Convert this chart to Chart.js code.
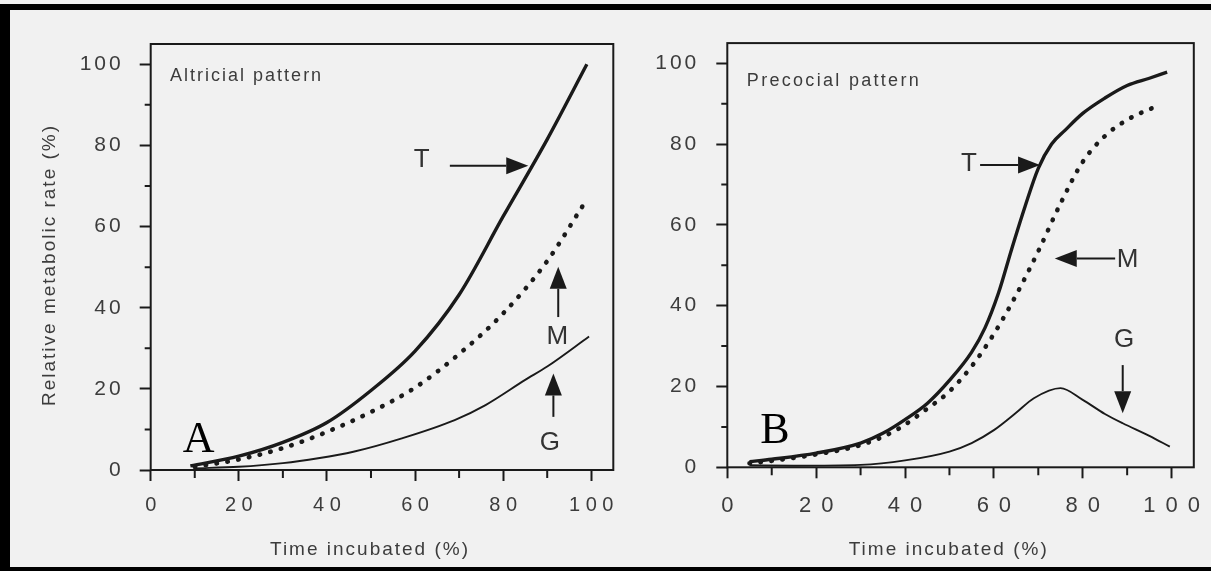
<!DOCTYPE html>
<html>
<head>
<meta charset="utf-8">
<script src="https://cdn.jsdelivr.net/npm/chart.js@4.4.1/dist/chart.umd.min.js"></script>
<style>
  html, body { margin: 0; padding: 0; width: 1211px; height: 571px; overflow: hidden; background: #f1f1f1; }
  #frame { position: absolute; left: 0; top: 4px; width: 1260px; height: 567px; box-sizing: border-box;
           border-top: 6px solid #000; border-left: 10px solid #000; border-bottom: 4px solid #000; }
  canvas { position: absolute; top: 0; }
  #left { left: 0; }
  #right { left: 640px; }
</style>
</head>
<body>
<div id="frame"></div>
<canvas id="left" width="640" height="571"></canvas>
<canvas id="right" width="571" height="571"></canvas>
<script>
// axis ticks (labelled every 20, small marks in between)
const tickValues = [0, 20, 40, 60, 80, 100];
const minorTicks = [10, 30, 50, 70, 90];

// A - altricial pattern (time incubated % -> relative metabolic rate %)
const altTimeT = [9, 20, 30, 40, 50, 60, 70, 80, 90, 99];
const altT     = [1.0, 3.4, 6.8, 11.7, 19.6, 29.3, 43.2, 62.5, 81.5, 100];
const altTimeM = [10, 20, 30, 40, 50, 60, 70, 80, 90, 98];
const altM     = [0.8, 2.6, 5.4, 9.4, 14.3, 20.3, 28.6, 38.6, 51.5, 65];
const altTimeG = [10, 20, 30, 38, 46, 57, 69, 76, 85, 90, 99.5];
const altG     = [0.4, 0.8, 1.7, 2.9, 4.5, 7.8, 12.3, 16, 22.2, 25.5, 32.9];

// B - precocial pattern
const preTimeT = [5, 10, 20, 30, 35, 40, 45, 50, 55, 58, 61, 64, 67, 70, 73, 76, 80, 85, 90, 95, 99];
const preT     = [1.4, 2.0, 3.5, 6.0, 8.4, 11.8, 15.8, 21.5, 28.5, 34.5, 43, 54, 64.5, 74, 80, 83.4, 87.6, 91.4, 94.5, 96.3, 97.8];
const preTimeM = [5, 10, 20, 30, 38, 45, 50, 55, 60, 65, 70, 75, 80, 85, 90, 97.5];
const preM     = [1.0, 1.6, 3.2, 5.5, 9.2, 14.5, 18.8, 25.0, 33.0, 42.6, 53.5, 65.3, 75.6, 82.0, 86.0, 89.8];
const preTimeG = [5, 15, 30, 40, 50, 55, 60, 65, 69, 75, 80, 85, 89, 95, 99.6];
const preG     = [0.5, 0.4, 0.6, 1.7, 3.9, 6, 9.2, 13.5, 17.1, 19.6, 16.7, 13.2, 10.9, 7.8, 5.1];

const INK = '#1a1a1a';
const TEXT = '#3c3c3c';
Chart.defaults.font.family = "'Liberation Sans', Arial, Helvetica, sans-serif";

// labels and arrows, placed in data units
const altNotes = {
  caption: { text: 'Altricial pattern', x: 4.4, y: 97.1, spacing: 2 },
  letters: [{ text: 'T', x: 61.5, y: 76.4 }, { text: 'M', x: 92.3, y: 32.9 }, { text: 'G', x: 90.6, y: 6.6 }],
  arrows: [{ from: [67.9, 75], to: [85.7, 75] }, { from: [92.5, 37.7], to: [92.5, 50.1] }, { from: [91.4, 13.1], to: [91.4, 23.8] }],
  panel: { text: 'A', x: 7.3, y: 4.5 },
  titles: { x: [370, 550], y: [50, 265] }
};
const preNotes = {
  caption: { text: 'Precocial pattern', x: 4.4, y: 95.7, spacing: 2.3 },
  letters: [{ text: 'T', x: 54.4, y: 75.1 }, { text: 'M', x: 90.1, y: 51.3 }, { text: 'G', x: 89.3, y: 31.5 }],
  arrows: [{ from: [56.9, 74.8], to: [70.4, 74.8] }, { from: [87.3, 51.7], to: [73.7, 51.7] }, { from: [89.0, 25.3], to: [89.0, 13.4] }],
  panel: { text: 'B', x: 7.4, y: 5.9 },
  titles: { x: [308.7, 550] }
};

function pts(xs, ys) {
  return xs.map((x, i) => ({ x: x, y: ys[i] }));
}

function arrow(ctx, x0, y0, x1, y1) {
  const a = Math.atan2(y1 - y0, x1 - x0);
  const hl = 22, hw = 8.5;
  const bx = x1 - hl * Math.cos(a), by = y1 - hl * Math.sin(a);
  ctx.beginPath();
  ctx.moveTo(x0, y0);
  ctx.lineTo(bx, by);
  ctx.stroke();
  ctx.beginPath();
  ctx.moveTo(x1, y1);
  ctx.lineTo(bx + hw * Math.sin(a), by - hw * Math.cos(a));
  ctx.lineTo(bx - hw * Math.sin(a), by + hw * Math.cos(a));
  ctx.closePath();
  ctx.fill();
}

function decor(notes, lay) {
  return {
    id: 'decor',
    // x tick labels are drawn before the datasets, y tick labels after (ticks.z = 1)
    beforeDraw(chart) { chart.ctx.letterSpacing = lay.xSpacing + 'px'; },
    afterDatasetsDraw(chart) { chart.ctx.letterSpacing = lay.ySpacing + 'px'; },
    afterDraw(chart) {
      const { ctx, chartArea: a, scales: { x, y } } = chart;
      ctx.save();
      ctx.letterSpacing = '0px';
      ctx.strokeStyle = INK;
      ctx.fillStyle = INK;
      ctx.lineWidth = 2;
      ctx.strokeRect(a.left, a.top, a.right - a.left, a.bottom - a.top);

      ctx.beginPath();
      minorTicks.forEach(v => {
        const px = x.getPixelForValue(v), py = y.getPixelForValue(v);
        ctx.moveTo(px, a.bottom);
        ctx.lineTo(px, a.bottom + 8);
        ctx.moveTo(a.left, py);
        ctx.lineTo(a.left - 6, py);
      });
      ctx.stroke();

      notes.arrows.forEach(ar => {
        arrow(ctx, x.getPixelForValue(ar.from[0]), y.getPixelForValue(ar.from[1]),
                   x.getPixelForValue(ar.to[0]), y.getPixelForValue(ar.to[1]));
      });

      ctx.fillStyle = '#333';
      ctx.font = "26px 'Liberation Sans', Arial, sans-serif";
      ctx.textAlign = 'center';
      ctx.textBaseline = 'middle';
      notes.letters.forEach(l => ctx.fillText(l.text, x.getPixelForValue(l.x), y.getPixelForValue(l.y)));

      ctx.fillStyle = TEXT;
      ctx.textAlign = 'left';
      ctx.font = "18px 'Liberation Sans', Arial, sans-serif";
      ctx.letterSpacing = notes.caption.spacing + 'px';
      ctx.fillText(notes.caption.text, x.getPixelForValue(notes.caption.x), y.getPixelForValue(notes.caption.y));

      // axis titles
      ctx.font = "19px 'Liberation Sans', Arial, sans-serif";
      ctx.letterSpacing = '2px';
      ctx.textAlign = 'center';
      ctx.fillText('Time incubated (%)', notes.titles.x[0], notes.titles.x[1]);
      if (notes.titles.y) {
        ctx.save();
        ctx.translate(notes.titles.y[0], notes.titles.y[1]);
        ctx.rotate(-Math.PI / 2);
        ctx.fillText('Relative metabolic rate (%)', 0, 0);
        ctx.restore();
      }

      ctx.letterSpacing = '0px';
      ctx.fillStyle = '#000';
      ctx.textAlign = 'left';
      ctx.textBaseline = 'alphabetic';
      ctx.font = "44px 'Liberation Serif', 'Times New Roman', serif";
      ctx.fillText(notes.panel.text, x.getPixelForValue(notes.panel.x), y.getPixelForValue(notes.panel.y));
      ctx.restore();
    }
  };
}

function makePanel(id, series, notes, lay) {
  const line = { pointRadius: 0, fill: false, borderColor: INK, cubicInterpolationMode: 'monotone' };
  const fixedTicks = s => { s.ticks = tickValues.map(v => ({ value: v })); };
  return new Chart(document.getElementById(id), {
    type: 'line',
    data: {
      datasets: [
        Object.assign({ label: 'T', data: pts(series[0], series[1]), borderWidth: 3.4 }, line),
        Object.assign({ label: 'M', data: pts(series[2], series[3]), borderWidth: 4.6,
                        borderDash: [0.5, 10.5], borderCapStyle: 'round' }, line),
        Object.assign({ label: 'G', data: pts(series[4], series[5]), borderWidth: 1.9 }, line)
      ]
    },
    options: {
      responsive: false,
      animation: false,
      layout: { padding: { left: 0, top: lay.top, right: lay.right, bottom: 0 } },
      plugins: { legend: { display: false }, tooltip: { enabled: false } },
      scales: {
        x: {
          type: 'linear', min: 0, max: 105,
          afterBuildTicks: fixedTicks,
          afterFit: s => { s.height = lay.xHeight; s.paddingLeft = 0; s.paddingRight = 0; },
          border: { display: false },
          grid: { drawOnChartArea: false, tickLength: 11, tickWidth: 2, tickColor: INK },
          ticks: { autoSkip: false, maxRotation: 0, color: TEXT,
                   padding: lay.xPad, labelOffset: lay.xSpacing / 2, font: { size: lay.xFont } }
        },
        y: {
          min: 0, max: 105,
          afterBuildTicks: fixedTicks,
          afterFit: s => { s.width = lay.yWidth; s.paddingTop = 0; s.paddingBottom = 0; },
          border: { display: false },
          grid: { drawOnChartArea: false, tickLength: 11, tickWidth: 2, tickColor: INK },
          ticks: { color: TEXT, padding: lay.yPad, z: 1, font: { size: 21 } }
        }
      }
    },
    plugins: [decor(notes, lay)]
  });
}

makePanel('left', [altTimeT, altT, altTimeM, altM, altTimeG, altG], altNotes,
  { top: 44, right: 26.7, yWidth: 150.7, xHeight: 101, xFont: 20, xSpacing: 5.5, xPad: 12, ySpacing: 3, yPad: 16 });
makePanel('right', [preTimeT, preT, preTimeM, preM, preTimeG, preG], preNotes,
  { top: 43.1, right: 17.2, yWidth: 87.3, xHeight: 103.7, xFont: 22, xSpacing: 10, xPad: 14, ySpacing: 3, yPad: 17 });
</script>
</body>
</html>
